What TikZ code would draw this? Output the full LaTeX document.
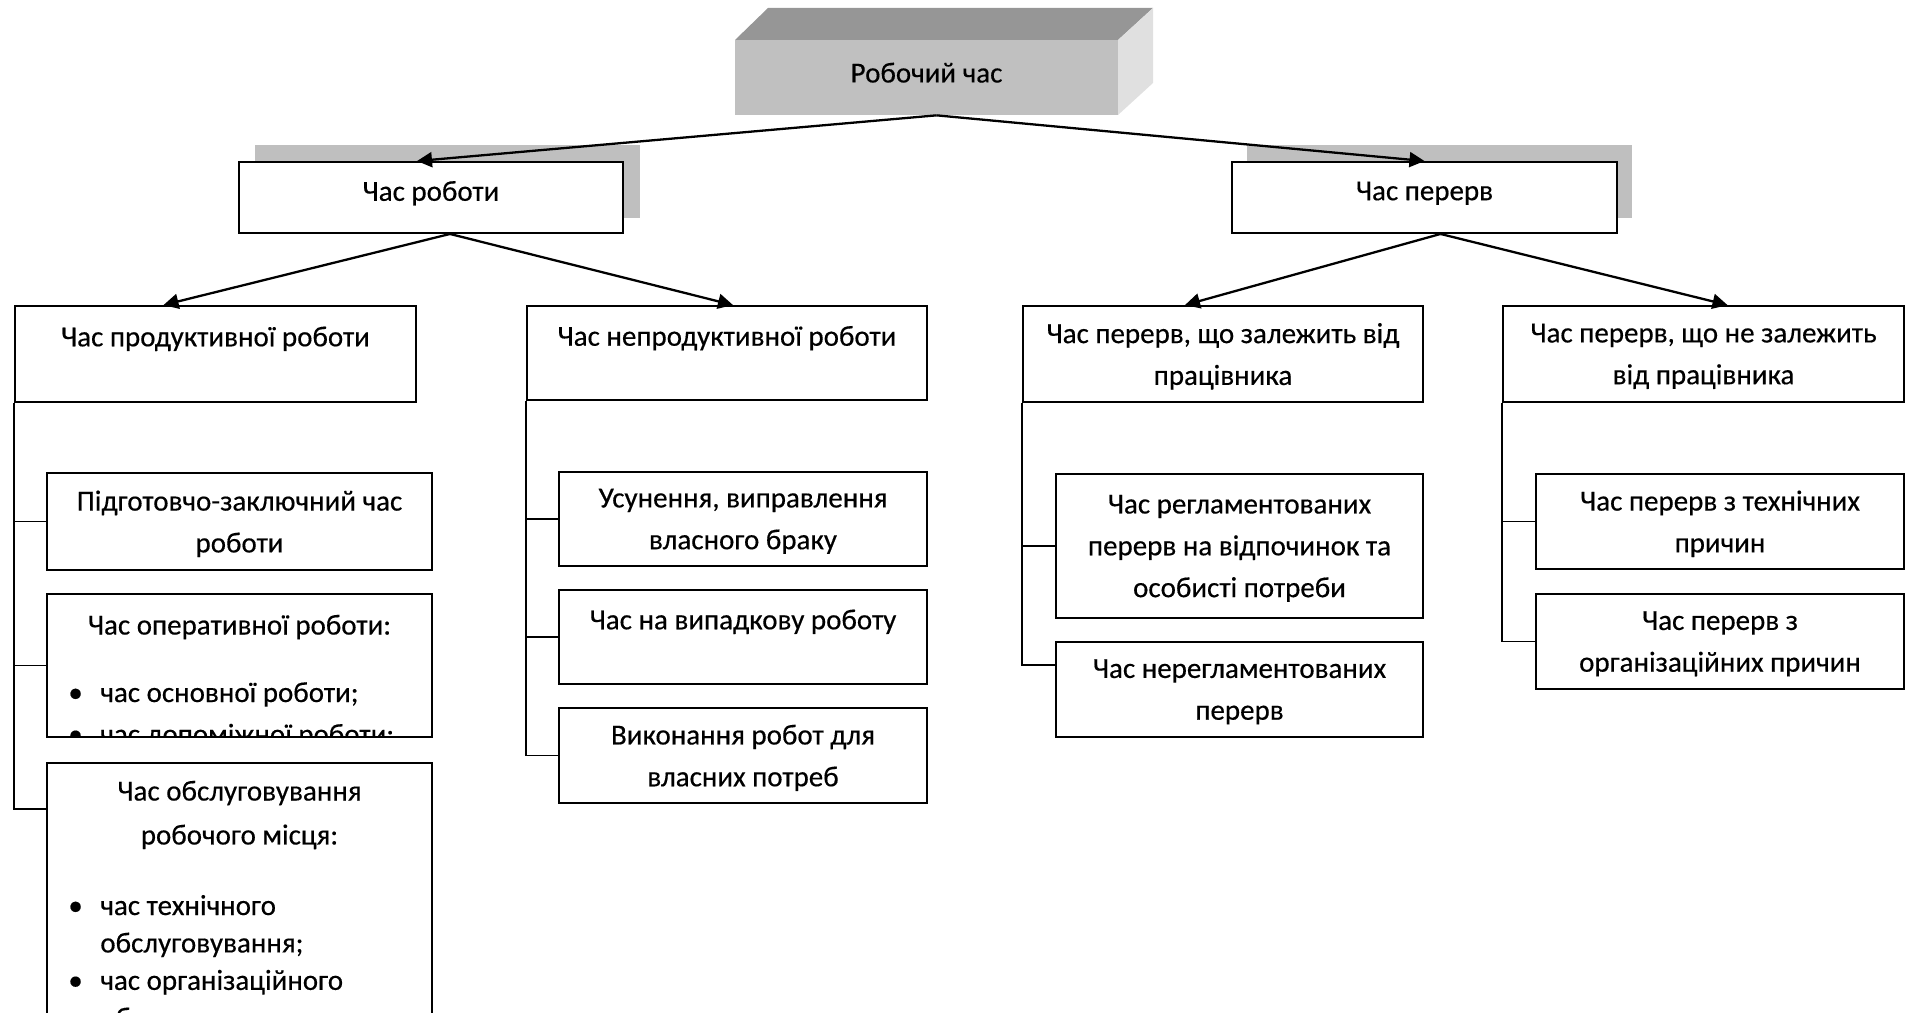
\documentclass[tikz,border=0pt]{standalone}
\usepackage{fontspec}
\setmainfont[FakeBold=0.4]{Carlito}
\usepackage{tikz}
\usetikzlibrary{arrows.meta,calc}
\definecolor{tenj}{RGB}{191,191,191}
\definecolor{verh}{RGB}{150,150,150}
\definecolor{bik}{RGB}{224,224,224}
\definecolor{licevy}{RGB}{192,192,192}
\newcommand{\bul}{\makebox[0.64cm][l]{•}}

\begin{document}
\begin{tikzpicture}[x=0.02cm, y=-0.02cm,
    blok/.style={draw, line width=1.1pt, align=center, inner sep=0pt, font=\fontsize{16.5}{23.8}\selectfont},
    tekst/.style={inner sep=0pt, font=\fontsize{16.5}{23.8}\selectfont},
    strilka/.style={line width=1.3pt, -{Triangle[length=0.3cm, width=0.3cm]}},
    zvjazok/.style={line width=0.9pt}]
    \useasboundingbox (0,0) rectangle (1914,1013);
    \clip (0,0) rectangle (1914,1013);

    % Робочий час (об'ємний блок)
    \fill[verh] (735,40) -- (768,8) -- (1153,8) -- (1118,40) -- cycle;
    \fill[bik] (1118,40) -- (1153,8) -- (1153,83) -- (1118,115) -- cycle;
    \node[fill=licevy, tekst, text depth=5.6pt, minimum width=7.66cm, minimum height=1.5cm] (root) at (926.5,77.5) {Робочий час};

    % тіні
    \fill[tenj] (255,145) rectangle (640,218);
    \fill[tenj] (1247,145) rectangle (1632,218);
    \node[blok, fill=white, text depth=7.5pt, minimum width=7.68cm, minimum height=1.42cm] (work) at (431,197.5) {Час роботи};
    \node[blok, fill=white, text depth=7.5pt, minimum width=7.7cm, minimum height=1.42cm] (breaks) at (1424.5,197.5) {Час перерв};

    \node[blok, text depth=20pt, minimum width=8.02cm, minimum height=1.92cm] (prod) at (215.5,354) {Час продуктивної роботи};
    \node[blok, text depth=19.5pt, minimum width=8cm, minimum height=1.88cm] (unprod) at (727,353) {Час непродуктивної роботи};
    \node[blok, text depth=-7.9pt, minimum width=8cm, minimum height=1.92cm] (dep) at (1223,354) {Час перерв, що залежить від\\працівника};
    \node[blok, text depth=-5.1pt, minimum width=8.02cm, minimum height=1.92cm] (indep) at (1703.5,354) {Час перерв, що не залежить\\від працівника};

    % продуктивна робота
    \node[blok, text depth=-3.8pt, minimum width=7.7cm, minimum height=1.94cm] (pzc) at (239.5,521.5) {Підготовчо-заключний час\\роботи};
    \node[blok, minimum width=7.7cm, minimum height=2.86cm] (oper) at (239.5,665.5) {};
    \node[blok, minimum width=7.7cm, minimum height=6cm, anchor=north] (serv) at (239.5,762) {};
    \begin{scope}
    \clip (oper.north west) rectangle (oper.south east);
    \node[tekst] (operhd) at (239.5,627) {Час оперативної роботи:};
    \node[tekst, anchor=base west] (operls) at (68,702) {\begin{tabular}[t]{@{}l@{}l@{}}\bul & час основної роботи;\\ \bul & час допоміжної роботи;\end{tabular}};
    \end{scope}
    \node[tekst, align=center, font=\fontsize{16.5}{25}\selectfont] (servhd) at (239.5,815) {Час обслуговування\\робочого місця:};
    \node[tekst, anchor=base west, font=\fontsize{16.5}{21.3}\selectfont] (servls) at (68,915) {\begin{tabular}[t]{@{}l@{}l@{}}\bul & час технічного\\ & обслуговування;\\ \bul & час організаційного\\ & обслуговування.\end{tabular}};

    % непродуктивна робота
    \node[blok, text depth=-6.5pt, minimum width=7.36cm, minimum height=1.88cm] (fix) at (743,519) {Усунення, виправлення\\власного браку};
    \node[blok, text depth=20pt, minimum width=7.36cm, minimum height=1.88cm] (rand) at (743,637) {Час на випадкову роботу};
    \node[blok, text depth=-1pt, minimum width=7.36cm, minimum height=1.9cm] (own) at (743,755.5) {Виконання робот для\\власних потреб};

    % перерви
    \node[blok, text depth=-0.3pt, minimum width=7.34cm, minimum height=2.88cm] (reg) at (1239.5,546) {Час регламентованих\\перерв на відпочинок та\\особисті потреби};
    \node[blok, text depth=-8.7pt, minimum width=7.34cm, minimum height=1.9cm] (unreg) at (1239.5,689.5) {Час нерегламентованих\\перерв};
    \node[blok, text depth=-3.4pt, minimum width=7.36cm, minimum height=1.9cm] (tech) at (1720,521.5) {Час перерв з технічних\\причин};
    \node[blok, text depth=-2.4pt, minimum width=7.36cm, minimum height=1.9cm] (org) at (1720,641.5) {Час перерв з\\організаційних причин};

    % з'єднання
    \draw[zvjazok] (prod.south west) |- (pzc.west);
    \draw[zvjazok] (prod.south west) |- (oper.west);
    \draw[zvjazok] (prod.south west) |- ($(serv.north west)+(0,47)$);
    \draw[zvjazok] (unprod.south west) |- (fix.west);
    \draw[zvjazok] (unprod.south west) |- (rand.west);
    \draw[zvjazok] (unprod.south west) |- (own.west);
    \draw[zvjazok] (dep.south west) |- (reg.west);
    \draw[zvjazok] (dep.south west) |- ($(unreg.north west)+(0,24)$);
    \draw[zvjazok] (indep.south west) |- (tech.west);
    \draw[zvjazok] (indep.south west) |- (org.west);

    \draw[strilka] ($(root.south)+(10,0)$) -- ($(work.north)+(-14,0)$);
    \draw[strilka] ($(root.south)+(10,0)$) -- (breaks.north);
    \draw[strilka] ($(work.south)+(19,0)$) -- ($(prod.north)+(-52,0)$);
    \draw[strilka] ($(work.south)+(19,0)$) -- ($(unprod.north)+(6,0)$);
    \draw[strilka] ($(breaks.south)+(16,0)$) -- ($(dep.north)+(-38,0)$);
    \draw[strilka] ($(breaks.south)+(16,0)$) -- ($(indep.north)+(24,0)$);
\end{tikzpicture}
\end{document}
